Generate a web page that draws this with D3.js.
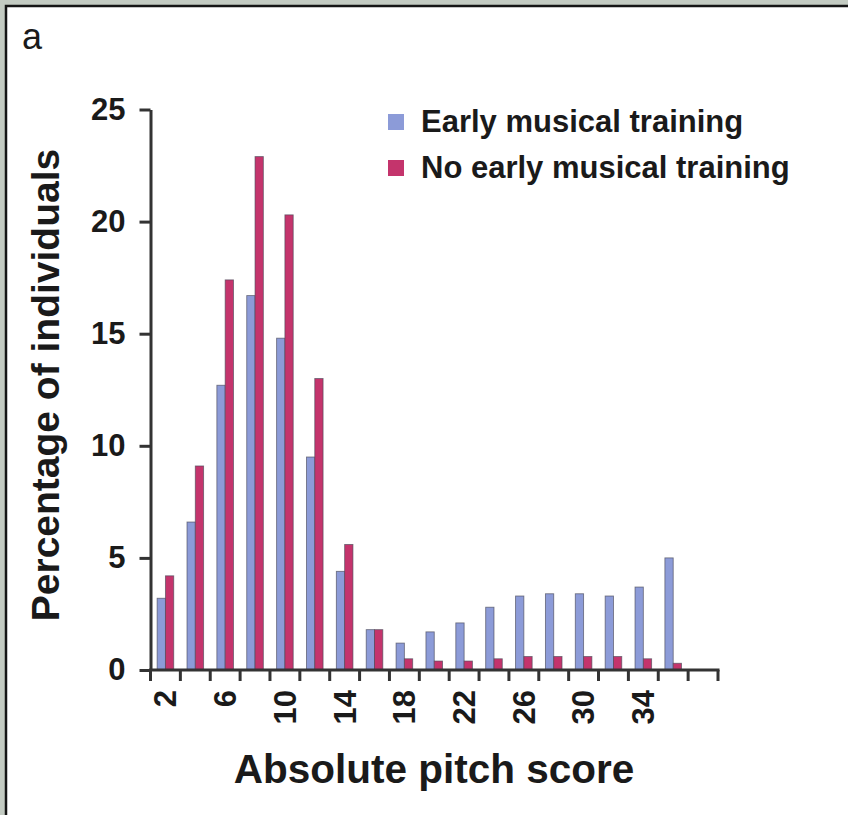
<!DOCTYPE html>
<html>
<head>
<meta charset="utf-8">
<script src="https://cdn.jsdelivr.net/npm/d3@7"></script>
<style>
  html, body { margin: 0; padding: 0; background: #c3cbc2; overflow: hidden; }
  svg { display: block; }
  text { font-family: "Liberation Sans", Arial, Helvetica, sans-serif; fill: #1a1a1a; }
</style>
</head>
<body>
<svg id="chart" width="848" height="815"></svg>
<script>
// Score bins (the last bin is empty)
const scores = [2, 4, 6, 8, 10, 12, 14, 16, 18, 20, 22, 24, 26, 28, 30, 32, 34, 36, 38];
// Percentage of individuals per score bin
const earlyTraining   = [3.2, 6.6, 12.7, 16.7, 14.8, 9.5, 4.4, 1.8, 1.2, 1.7, 2.1, 2.8, 3.3, 3.4, 3.4, 3.3, 3.7, 5.0, null];
const noEarlyTraining = [4.2, 9.1, 17.4, 22.9, 20.3, 13.0, 5.6, 1.8, 0.5, 0.4, 0.4, 0.5, 0.6, 0.6, 0.6, 0.6, 0.5, 0.3, null];
const seriesNames = ["Early musical training", "No early musical training"];
const seriesColors = ["#8c9bd8", "#c4346c"];
const xTickLabels = [2, 6, 10, 14, 18, 22, 26, 30, 34];
const yTicks = [0, 5, 10, 15, 20, 25];

const svg = d3.select("#chart");

// Panel (open to the right and bottom)
svg.append("rect")
  .attr("x", 0).attr("y", 0).attr("width", 848).attr("height", 815)
  .attr("fill", "#c3cbc2");
svg.append("rect")
  .attr("x", 6).attr("y", 6).attr("width", 900).attr("height", 900)
  .attr("fill", "#ffffff").attr("stroke", "#151515").attr("stroke-width", 2.5);

svg.append("text")
  .attr("x", 22).attr("y", 49)
  .attr("font-size", 36)
  .text("a");

const plotLeft = 150.5, plotRight = 718, plotTop = 109.5, plotBottom = 670;

const x = d3.scaleBand().domain(scores).range([plotLeft, plotRight]).paddingInner(0).paddingOuter(0);
const xs = d3.scaleBand().domain([0, 1]).range([0, x.bandwidth()]).paddingInner(0).paddingOuter(0.8);
const y = d3.scaleLinear().domain([0, 25]).range([plotBottom, plotTop]);

// Bars
const rows = [];
scores.forEach((s, i) => {
  [earlyTraining[i], noEarlyTraining[i]].forEach((v, k) => {
    if (v != null) rows.push({ score: s, k, v });
  });
});

svg.append("g").selectAll("rect").data(rows).join("rect")
  .attr("x", d => x(d.score) + xs(d.k))
  .attr("y", d => y(d.v))
  .attr("width", xs.bandwidth())
  .attr("height", d => y(0) - y(d.v))
  .attr("fill", d => seriesColors[d.k])
  .attr("stroke", "#4a4a5a")
  .attr("stroke-opacity", 0.7)
  .attr("stroke-width", 0.9);

// Y axis
const yAxis = svg.append("g")
  .attr("transform", `translate(${plotLeft},0)`)
  .call(d3.axisLeft(y).tickValues(yTicks).tickSize(11).tickSizeOuter(0).tickPadding(14));
yAxis.select(".domain").attr("stroke", "#333").attr("stroke-width", 3);
yAxis.selectAll(".tick line").attr("stroke", "#333").attr("stroke-width", 3);
yAxis.selectAll(".tick text")
  .attr("font-size", 31).attr("font-weight", "bold")
  .attr("font-family", "Liberation Sans, Arial, sans-serif")
  .attr("fill", "#1a1a1a");

// X axis: ticks at bin boundaries
const edges = scores.map(s => x(s)).concat([plotRight]);
const xAxisG = svg.append("g");
xAxisG.append("line")
  .attr("x1", plotLeft - 1.5).attr("x2", plotRight + 1.5)
  .attr("y1", plotBottom).attr("y2", plotBottom)
  .attr("stroke", "#333").attr("stroke-width", 3);
xAxisG.selectAll("line.tk").data(edges).join("line")
  .attr("class", "tk")
  .attr("x1", d => d).attr("x2", d => d)
  .attr("y1", plotBottom).attr("y2", plotBottom + 11)
  .attr("stroke", "#333").attr("stroke-width", 3);

xAxisG.selectAll("text").data(xTickLabels).join("text")
  .attr("transform", d => `translate(${x(d) + x.bandwidth() / 2},690) rotate(-90)`)
  .attr("text-anchor", "end")
  .attr("dy", "0.35em")
  .attr("font-size", 31).attr("font-weight", "bold")
  .text(d => d);

// Axis titles
svg.append("text")
  .attr("x", 434).attr("y", 783)
  .attr("text-anchor", "middle")
  .attr("font-size", 40.5).attr("font-weight", "bold")
  .text("Absolute pitch score");

svg.append("text")
  .attr("transform", "translate(59,385) rotate(-90)")
  .attr("text-anchor", "middle")
  .attr("font-size", 39).attr("font-weight", "bold")
  .text("Percentage of individuals");

// Legend
const legend = svg.append("g").selectAll("g").data(seriesNames).join("g")
  .attr("transform", (d, i) => `translate(388,${114 + i * 46})`);
legend.append("rect")
  .attr("width", 16).attr("height", 16)
  .attr("fill", (d, i) => seriesColors[i]);
legend.append("text")
  .attr("x", 33).attr("y", 18)
  .attr("font-size", 31).attr("font-weight", "bold")
  .text(d => d);
</script>
</body>
</html>
